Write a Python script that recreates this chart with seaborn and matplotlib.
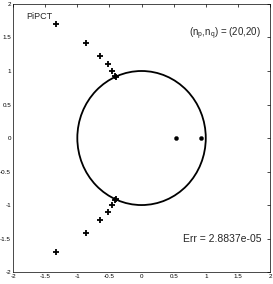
import numpy as np
import pandas as pd
import matplotlib.pyplot as plt
import seaborn as sns

sns.set_style('white')
plt.rcParams['font.family'] = ['Liberation Sans', 'DejaVu Sans']
plt.rcParams['mathtext.default'] = 'regular'

# poles (upper half, mirrored below) and zeros
pole_x = [-1.326, -0.869, -0.651, -0.526, -0.455, -0.408, -0.395]
pole_y = [1.697, 1.422, 1.224, 1.100, 1.005, 0.930, 0.915]
zero_x = [0.53, 0.92]
zero_y = [0.0, 0.0]
ticks = [-2, -1.5, -1, -0.5, 0, 0.5, 1, 1.5, 2]
tick_labels = ['-2', '-1.5', '-1', '-0.5', '0', '0.5', '1', '1.5', '2']

poles = pd.DataFrame({'x': pole_x + pole_x, 'y': pole_y + [-v for v in pole_y]})
zeros = pd.DataFrame({'x': zero_x, 'y': zero_y})

fig = plt.figure(figsize=(2.73, 2.84), dpi=100)
ax = fig.add_axes([0.048, 0.042, 0.941, 0.944])

ax.add_patch(plt.Circle((0, 0), 1, fill=False, color='black', lw=1.3))
sns.scatterplot(data=poles, x='x', y='y', marker='+', s=16, color='black',
                linewidth=1.3, ax=ax)
sns.scatterplot(data=zeros, x='x', y='y', marker='o', s=9, color='black',
                edgecolor='black', ax=ax)

ax.set_xlim(-2, 2)
ax.set_ylim(-2, 2)
ax.set_xticks(ticks)
ax.set_xticklabels(tick_labels)
ax.set_yticks(ticks)
ax.set_yticklabels(tick_labels)
ax.set_xlabel('')
ax.set_ylabel('')
ax.tick_params(direction='in', length=2.5, width=0.5, labelsize=4.5, pad=1.5,
               top=True, right=True, colors='black')
for s in ax.spines.values():
    s.set_linewidth(0.5)
    s.set_color('black')

ax.text(-1.8, 1.82, 'PiPCT', fontsize=6.5, ha='left', va='center')
ax.text(1.86, 1.55, '(n$_p$,n$_q$) = (20,20)', fontsize=7, ha='right', va='center')
ax.text(1.86, -1.5, 'Err = 2.8837e-05', fontsize=7.5, ha='right', va='center')

fig.savefig('out.png', dpi=100)
